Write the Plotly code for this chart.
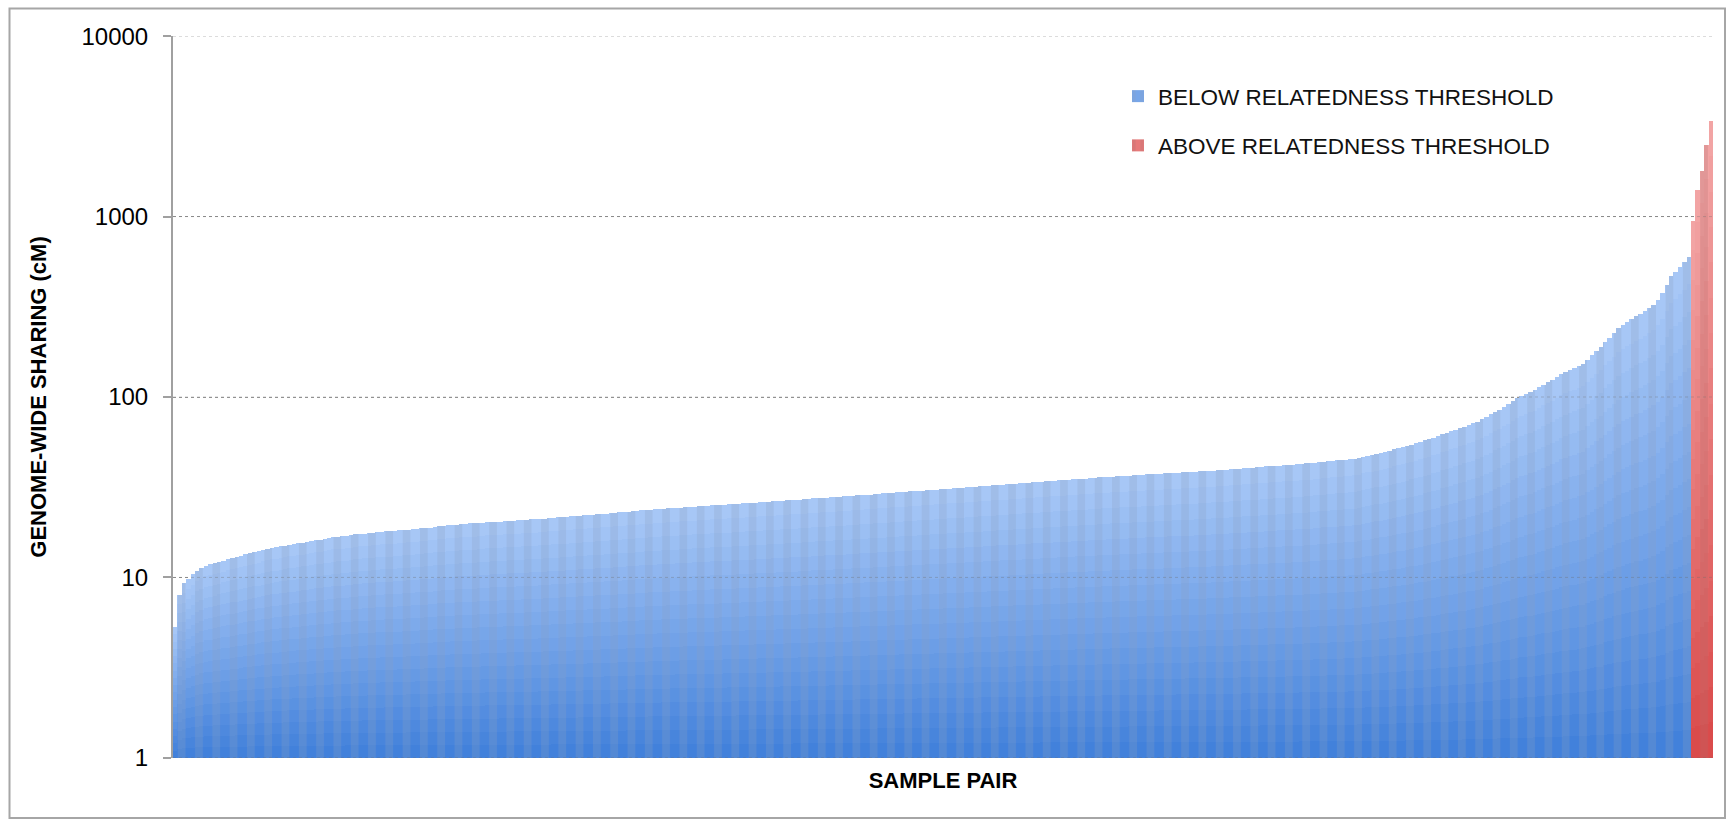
import numpy as np
import plotly.graph_objects as go

# Genome-wide sharing (cM) per sample pair, sorted ascending
blue_values = [
    5.3, 8.0, 9.3, 9.8, 10.4, 10.9, 11.3, 11.6, 11.8, 12.0,
    12.2, 12.4, 12.6, 12.8, 13.0, 13.2, 13.4, 13.6, 13.8, 14.0,
    14.2, 14.4, 14.6, 14.7, 14.9, 15.0, 15.2, 15.3, 15.5, 15.6,
    15.8, 15.9, 16.1, 16.2, 16.4, 16.5, 16.7, 16.8, 16.9, 17.0,
    17.1, 17.3, 17.4, 17.5, 17.6, 17.7, 17.8, 17.9, 18.0, 18.0,
    18.1, 18.2, 18.3, 18.4, 18.5, 18.6, 18.7, 18.8, 18.9, 19.1,
    19.2, 19.3, 19.4, 19.5, 19.6, 19.7, 19.8, 19.9, 19.9, 20.0,
    20.1, 20.2, 20.3, 20.3, 20.4, 20.5, 20.6, 20.6, 20.7, 20.8,
    20.9, 21.0, 21.0, 21.1, 21.2, 21.3, 21.4, 21.5, 21.6, 21.7,
    21.8, 21.9, 22.0, 22.1, 22.2, 22.3, 22.4, 22.5, 22.6, 22.7,
    22.8, 22.9, 23.0, 23.1, 23.2, 23.4, 23.5, 23.6, 23.7, 23.8,
    23.9, 24.0, 24.1, 24.2, 24.3, 24.4, 24.5, 24.6, 24.7, 24.8,
    24.9, 25.0, 25.1, 25.1, 25.2, 25.3, 25.4, 25.5, 25.6, 25.7,
    25.8, 25.9, 26.0, 26.1, 26.2, 26.3, 26.4, 26.5, 26.6, 26.7,
    26.8, 26.9, 27.0, 27.1, 27.2, 27.4, 27.5, 27.6, 27.7, 27.8,
    27.9, 28.0, 28.1, 28.2, 28.4, 28.5, 28.6, 28.7, 28.8, 29.0,
    29.1, 29.2, 29.3, 29.5, 29.6, 29.7, 29.8, 30.0, 30.1, 30.2,
    30.3, 30.5, 30.6, 30.7, 30.8, 31.0, 31.1, 31.2, 31.4, 31.5,
    31.6, 31.8, 31.9, 32.0, 32.2, 32.3, 32.4, 32.6, 32.7, 32.8,
    33.0, 33.1, 33.2, 33.4, 33.5, 33.7, 33.8, 33.9, 34.1, 34.2,
    34.4, 34.5, 34.6, 34.8, 34.9, 35.1, 35.2, 35.3, 35.5, 35.6,
    35.8, 35.9, 36.0, 36.2, 36.3, 36.4, 36.5, 36.7, 36.8, 36.9,
    37.0, 37.2, 37.3, 37.4, 37.5, 37.7, 37.8, 37.9, 38.0, 38.2,
    38.3, 38.4, 38.5, 38.7, 38.8, 38.9, 39.1, 39.2, 39.4, 39.6,
    39.8, 39.9, 40.1, 40.3, 40.5, 40.6, 40.8, 41.0, 41.2, 41.3,
    41.5, 41.7, 41.9, 42.0, 42.2, 42.4, 42.6, 42.8, 43.0, 43.3,
    43.5, 43.8, 44.0, 44.3, 44.5, 44.7, 45.0, 45.2, 45.5, 46.0,
    46.7, 47.3, 47.9, 48.5, 49.1, 49.8, 50.5, 51.3, 52.0, 52.8,
    53.6, 54.4, 55.4, 56.4, 57.4, 58.4, 59.5, 60.8, 62.0, 63.3,
    64.6, 65.9, 67.3, 68.6, 70.0, 71.4, 72.9, 75.2, 77.6, 80.1,
    82.6, 85.0, 88.2, 91.5, 94.9, 98.4, 101.4, 104, 106.5, 109,
    113, 117, 121, 125, 129, 134, 138, 142, 145, 149,
    152, 161, 170, 180, 189, 201, 213, 226, 240, 250,
    260, 270, 281, 289, 300, 311, 325, 345, 375, 420,
    470, 495, 524, 560, 600,
]
red_values = [950, 1400, 1800, 2500, 3400]

y_tick_vals = [1, 10, 100, 1000, 10000]
y_tick_text = ["1", "10", "100", "1000", "10000"]
series_names = ["BELOW RELATEDNESS THRESHOLD", "ABOVE RELATEDNESS THRESHOLD"]
x_title = "SAMPLE PAIR"
y_title = "GENOME-WIDE SHARING (cM)"

N_STEPS = 18  # vertical gradient bands per bar
AXIS_FONT = "Liberation Sans, Arial, sans-serif"


def hex_rgb(h):
    h = h.lstrip("#")
    return [int(h[i:i + 2], 16) for i in (0, 2, 4)]


def blend(c0, c1, t):
    a, b = hex_rgb(c0), hex_rgb(c1)
    r, g, bl = (round(a[i] + (b[i] - a[i]) * t) for i in range(3))
    return f"rgb({r},{g},{bl})"


def gradient_bars(x, values, bottom, top, stripe, name, rank):
    """Bars filled with a dark-to-light vertical gradient (log-space bands)."""
    vals = np.asarray(values, dtype=float)
    out = []
    for k in range(N_STEPS):
        lo = vals ** (k / N_STEPS)
        hi = vals ** ((k + 1) / N_STEPS)
        col = blend(bottom, top, (k + 0.5) / N_STEPS)
        out.append(go.Bar(
            x=x, y=hi - lo, base=lo,
            name=name, legendgroup=name, legendrank=rank,
            showlegend=(k == N_STEPS // 2),
            marker=dict(
                color=col, line_width=0,
                pattern=dict(shape="|", size=17.3, solidity=0.45,
                             fillmode="overlay", fgcolor=stripe, fgopacity=0.25),
            ),
            hoverinfo="skip",
        ))
    return out


n_blue = len(blue_values)
n_red = len(red_values)
x_blue = np.arange(n_blue)
x_red = np.arange(n_blue, n_blue + n_red)

fig = go.Figure()
for tr in gradient_bars(x_blue, blue_values, "#3f7fda", "#aac9f7", "#8a9fbf",
                        series_names[0], 1):
    fig.add_trace(tr)
for tr in gradient_bars(x_red, red_values, "#d94848", "#f3a7a7", "#b07070",
                        series_names[1], 2):
    fig.add_trace(tr)

ML, MR, MT, MB = 173, 14, 36, 61
W, H = 1727, 819
pw, ph = W - ML - MR, H - MT - MB


def px_x(p):
    return (p - ML) / pw


def px_y(p):
    return (H - MB - p) / ph


# faint dotted gridlines drawn over the bars as well
grid_over = [dict(
    type="line", xref="paper", yref="y", x0=0, x1=1, y0=v, y1=v,
    line=dict(color="rgba(110,110,110,0.35)", width=1, dash="dot"),
    layer="above",
) for v in y_tick_vals]

border = dict(
    type="rect", xref="paper", yref="paper",
    x0=px_x(9.5), x1=px_x(1725), y0=px_y(818), y1=px_y(8.5),
    line=dict(color="#a6a6a6", width=2), fillcolor="rgba(0,0,0,0)",
    layer="below",
)

fig.update_layout(
    width=W, height=H,
    margin=dict(l=ML, r=MR, t=MT, b=MB),
    paper_bgcolor="white", plot_bgcolor="white",
    barmode="overlay", bargap=0,
    font=dict(family=AXIS_FONT, color="black"),
    xaxis=dict(
        range=[-0.5, n_blue + n_red - 0.5],
        showticklabels=False, ticks="", showgrid=False,
        zeroline=False, showline=False,
        title=dict(text=f"<b>{x_title}</b>", standoff=14,
                   font=dict(size=22, family=AXIS_FONT)),
    ),
    yaxis=dict(
        type="log", range=[-0.001, 4.001],
        tickvals=y_tick_vals, ticktext=y_tick_text,
        ticks="outside", ticklen=8, tickwidth=2, tickcolor="#a0a0a0",
        ticklabelstandoff=10,
        tickfont=dict(size=24, family=AXIS_FONT),
        showline=True, linecolor="#a0a0a0", linewidth=2,
        showgrid=True, gridcolor="#9a9a9a", griddash="dot", gridwidth=1,
        zeroline=False,
        title=dict(text=f"<b>{y_title}</b>", standoff=29,
                   font=dict(size=22, family=AXIS_FONT)),
    ),
    legend=dict(
        x=px_x(1118), y=px_y(75), xanchor="left", yanchor="top",
        bgcolor="rgba(0,0,0,0)", tracegroupgap=17,
        font=dict(size=22.5, family=AXIS_FONT, color="#111111"),
    ),
    shapes=[border] + grid_over,
)

fig.write_html("out.html")
